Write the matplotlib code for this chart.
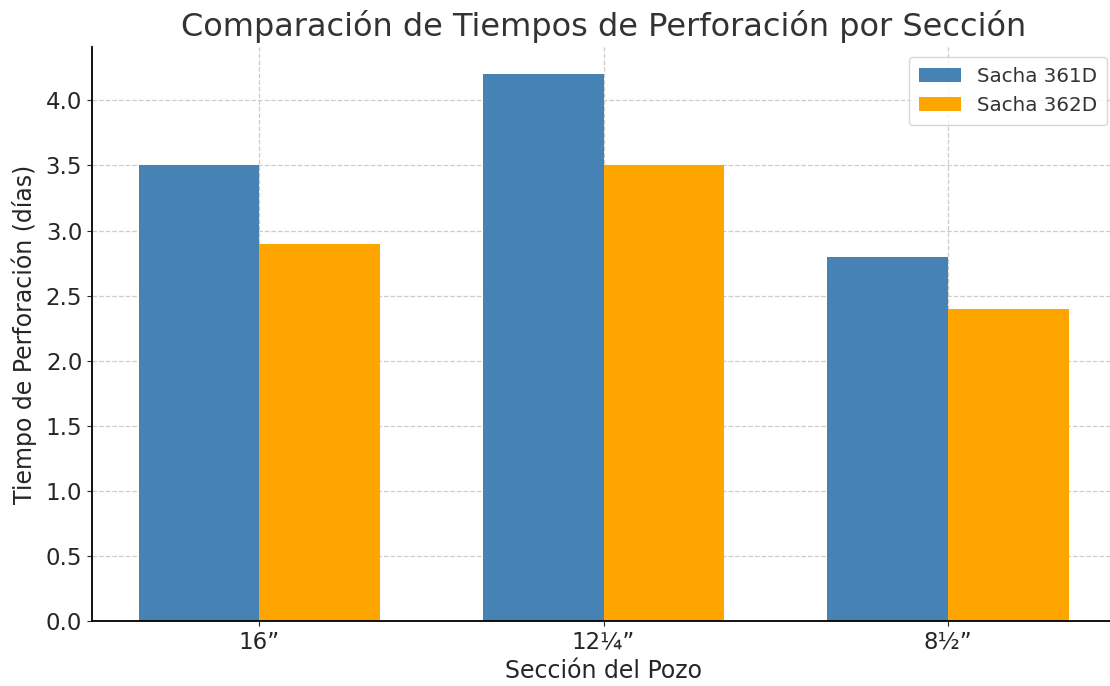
import numpy as np
import matplotlib
matplotlib.use("Agg")
from matplotlib import pyplot as plt

# data
secciones = ["16\u201d", "12\u00bc\u201d", "8\u00bd\u201d"]
sacha_361d = [3.5, 4.2, 2.8]
sacha_362d = [2.9, 3.5, 2.4]

ancho = 0.35
x = np.arange(len(secciones))

fig = plt.figure(figsize=(11.1, 6.86), dpi=100)
ax = fig.add_axes([92 / 1110, 1 - 621 / 686, (1115 - 92) / 1110, (621 - 47) / 686])

ax.bar(x - ancho / 2, sacha_361d, ancho, label="Sacha 361D", color="steelblue", zorder=2)
ax.bar(x + ancho / 2, sacha_362d, ancho, label="Sacha 362D", color="orange", zorder=2)

ax.set_xticks(x)
ax.set_xticklabels(secciones)
ax.tick_params(axis="both", labelsize=16.5, colors="#262626")
ax.set_xlabel("Secci\u00f3n del Pozo", fontsize=17, color="#262626", labelpad=4)
ax.set_ylabel("Tiempo de Perforaci\u00f3n (d\u00edas)", fontsize=17, color="#262626", labelpad=6)
ax.set_title("Comparaci\u00f3n de Tiempos de Perforaci\u00f3n por Secci\u00f3n",
             fontsize=23, color="#333333", pad=8)

# dashed grid behind the bars
ax.grid(True, linestyle="--", color="#cccccc", linewidth=0.9, zorder=0)
ax.set_axisbelow(True)
ax.spines["top"].set_visible(False)
ax.spines["right"].set_visible(False)
ax.spines["left"].set_linewidth(1.3)
ax.spines["bottom"].set_linewidth(1.3)

leg = ax.legend(loc="upper right", fontsize=14.3, borderpad=0.5, handlelength=2.1,
                bbox_to_anchor=((1117 - 92) / (1115 - 92), 1.0))
for t in leg.get_texts():
    t.set_color("#333333")

fig.savefig("out.png", dpi=100)
